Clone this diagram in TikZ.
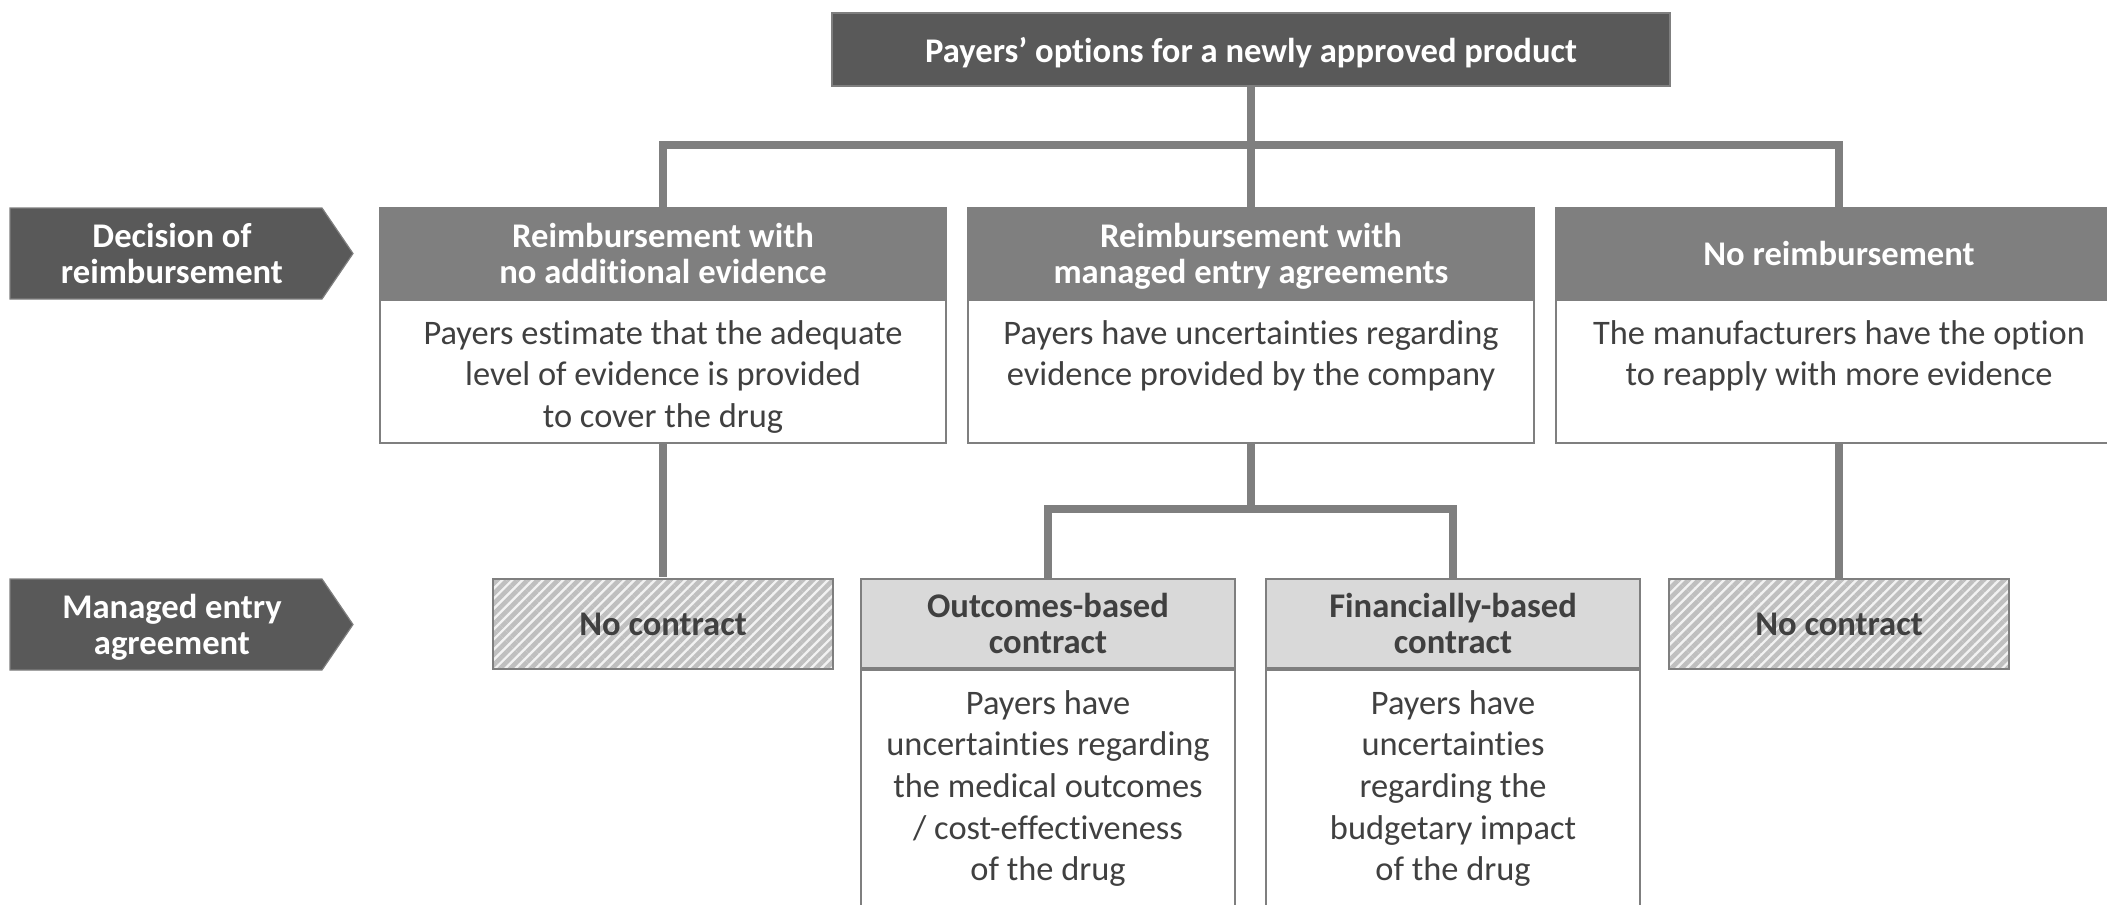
\documentclass[tikz,border=0pt]{standalone}
\usepackage{fontspec}
\setmainfont{Carlito}[Ligatures=NoCommon]
\usetikzlibrary{patterns.meta}
\definecolor{dark}{HTML}{595959}
\definecolor{mid}{HTML}{7F7F7F}
\definecolor{lite}{HTML}{D9D9D9}
\definecolor{txt}{HTML}{404040}
\definecolor{hatchc}{HTML}{BFBFBF}
\definecolor{hatchbg}{HTML}{F2F2F2}
\begin{document}
\begin{tikzpicture}[x=0.5pt,y=-0.5pt,
  conn/.style={draw=mid,line width=4pt},
  boldf/.style={font=\fontsize{17.3}{18}\selectfont\bfseries},
  topbox/.style={boldf,fill=dark,draw=mid,line width=0.8pt,minimum width=419pt,minimum height=36.5pt,inner sep=0pt,text=white,text depth=0pt},
  head/.style={boldf,fill=mid,draw=mid,line width=1pt,minimum width=283pt,minimum height=45pt,inner sep=0pt,text=white,align=center,text depth=0pt},
  bodybox/.style={fill=white,draw=mid,line width=1pt,minimum width=283pt,minimum height=71.5pt,inner sep=0pt},
  bodytxt/.style={text=txt,align=center,inner sep=0pt,anchor=north,font=\fontsize{17.2}{20.8}\selectfont},
  chead/.style={boldf,fill=lite,draw=mid,line width=1pt,minimum width=187pt,minimum height=44.5pt,inner sep=0pt,text=txt,align=center,text depth=0pt},
  cbody/.style={fill=white,draw=mid,line width=1pt,minimum width=187pt,minimum height=130pt,inner sep=0pt,anchor=north},
  nocon/.style={boldf,draw=mid,line width=1pt,minimum width=170pt,minimum height=45pt,inner sep=0pt,preaction={fill=hatchbg},pattern={Lines[angle=45,distance=3.6pt,line width=2.3pt]},pattern color=hatchc,text=txt,text depth=0pt},
  arrfill/.style={fill=dark,draw=mid,line width=0.6pt},
  arrtxt/.style={boldf,text=white,align=center,inner sep=0pt,text depth=0pt}
]
\useasboundingbox (0,0) rectangle (2107,904);

% left stage arrows
\filldraw[arrfill] (10,208) -- (322,208) -- (353,253.5) -- (322,299) -- (10,299) -- cycle;
\node[arrtxt] (lab1) at (172,253.5) {Decision of\\reimbursement};
\filldraw[arrfill] (10,579) -- (322,579) -- (353,624.5) -- (322,670) -- (10,670) -- cycle;
\node[arrtxt] (lab2) at (172,624.5) {Managed entry\\agreement};

% top
\node[topbox] (top) at (1251,49.5) {Payers’ options for a newly approved product};

% level 1
\node[head] (h1) at (663,253) {Reimbursement with\\no additional evidence};
\node[head] (h2) at (1251,253) {Reimbursement with\\managed entry agreements};
\node[head] (h3) at (1839,253) {No reimbursement};
\node[bodybox,anchor=north] (b1) at (h1.south) {};
\node[bodybox,anchor=north] (b2) at (h2.south) {};
\node[bodybox,anchor=north] (b3) at (h3.south) {};
\node[bodytxt] (t1) at ([yshift=-10.5pt]b1.north) {Payers estimate that the adequate\\level of evidence is provided\\to cover the drug};
\node[bodytxt] (t2) at ([yshift=-10.5pt]b2.north) {Payers have uncertainties regarding\\evidence provided by the company};
\node[bodytxt] (t3) at ([yshift=-10.5pt]b3.north) {The manufacturers have the option\\to reapply with more evidence};

% level 2
\node[nocon] (n1) at (663,624) {No contract};
\node[nocon] (n2) at (1839,624) {No contract};
\node[chead] (c1) at (1048,623.5) {Outcomes-based\\contract};
\node[chead] (c2) at (1453,623.5) {Financially-based\\contract};
\node[cbody] (cb1) at (c1.south) {};
\node[cbody] (cb2) at (c2.south) {};
\node[bodytxt] (ct1) at ([yshift=-10.5pt]cb1.north) {Payers have\\uncertainties regarding\\the medical outcomes\\/ cost-effectiveness\\of the drug};
\node[bodytxt] (ct2) at ([yshift=-10.5pt]cb2.north) {Payers have\\uncertainties\\regarding the\\budgetary impact\\of the drug};

% connectors
\coordinate (bar1) at (1251,145);
\coordinate (bar2) at (1251,509);
\draw[conn] (top.south) -- (bar1);
\draw[conn] (h1.north) |- (bar1) -| (h3.north);
\draw[conn] (bar1) -- (h2.north);
\draw[conn] (b2.south) -- (bar2);
\draw[conn] (c1.north) |- (bar2) -| (c2.north);
\draw[conn] (b1.south) -- (n1.north);
\draw[conn] (b3.south) -- (n2.north);
\end{tikzpicture}
\end{document}
